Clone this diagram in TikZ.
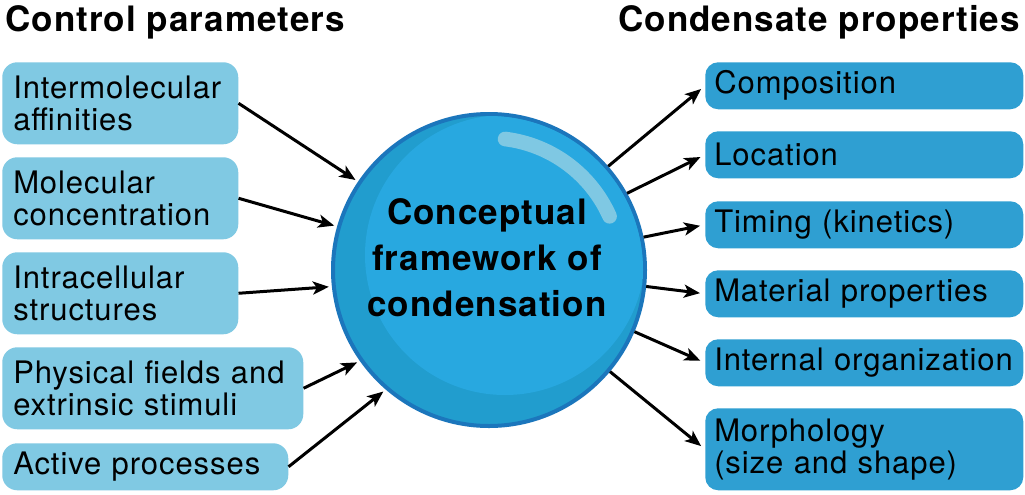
\documentclass[tikz,border=0pt]{standalone}
\usepackage{fontspec}
\setmainfont{TeX Gyre Heros}[LetterSpace=3]
\usetikzlibrary{arrows.meta}
\definecolor{lboxc}{HTML}{80C9E3}
\definecolor{rboxc}{HTML}{2F9FD2}
\definecolor{outerc}{HTML}{219DCE}
\definecolor{innerc}{HTML}{28A8E0}
\definecolor{ringc}{HTML}{1B76BC}
\definecolor{hlc}{HTML}{7FC8E3}
\newcommand{\bodyfnt}{\fontsize{23.25pt}{24pt}\selectfont}
\newcommand{\titlefnt}{\fontsize{26.25pt}{28pt}\selectfont\bfseries}
\newcommand{\circfnt}{\fontsize{26.25pt}{34.5pt}\selectfont\bfseries}
\begin{document}
\begin{tikzpicture}[x=0.75pt,y=-0.75pt,
  lbox/.style={fill=lboxc, rounded corners=11.25pt, anchor=north west, inner xsep=8.25pt, inner ysep=0pt, align=left, font=\bodyfnt, minimum height=61.5pt},
  rbox/.style={fill=rboxc, rounded corners=9.75pt, anchor=north west, inner xsep=6.75pt, inner ysep=0pt, align=left, font=\bodyfnt, minimum height=35.25pt, text width=225pt},
  arr/.style={line width=2.25pt, -{Stealth[length=12pt,width=9.75pt,inset=3pt]}},
  ttl/.style={font=\titlefnt, anchor=base west, inner sep=0pt}
]
\useasboundingbox (0,0) rectangle (1025,494);
\fill[white] (0,0) rectangle (1025,494);

\node[ttl] (t1) at (5,31) {Control parameters};
\node[ttl] (t2) at (618,31) {Condensate properties};

% left boxes
\node[lbox, text width=160.5pt] (l1) at (2,62) {Intermolecular\\affinities};
\node[lbox, text width=160.5pt] (l2) at (2,157) {Molecular\\concentration};
\node[lbox, text width=160.5pt] (l3) at (2,252) {Intracellular\\structures};
\node[lbox, text width=209.25pt] (l4) at (2,347) {Physical fields and\\extrinsic stimuli};
\node[lbox, text width=198pt, minimum height=35.25pt] (l5) at (2,443) {Active processes};

% right boxes
\node[rbox] (r1) at (705,62) {Composition};
\node[rbox] (r2) at (705,131) {Location};
\node[rbox] (r3) at (705,201) {Timing (kinetics)};
\node[rbox] (r4) at (705,270) {Material properties};
\node[rbox] (r5) at (705,339) {Internal organization};
\node[rbox, minimum height=61.5pt] (r6) at (705,408) {Morphology\\(size and shape)};

% central sphere
\node[circle, minimum size=234pt, inner sep=0pt, outer sep=3.75pt, fill=outerc, draw=ringc, line width=3pt] (C) at (489,270) {};
\begin{scope}
  \clip (C.center) circle (115.5pt);
  \fill[innerc] (505,255) circle (140);
\end{scope}
\draw[hlc, line width=11pt, line cap=round] ([shift={(83:99pt)}]C.center) arc[start angle=83, end angle=24, radius=99pt];
\node[font=\circfnt, align=center, inner sep=0pt] (ct) at (487,258) {Conceptual\\framework of\\condensation};

% connectors in
\draw[arr] (l1.east) -- (C.146);
\draw[arr] (l2.east) -- (C.164);
\draw[arr] (l3.east) -- (C.186);
\draw[arr] (l4.east) -- (C.215);
\draw[arr] (l5.east) -- (C.229);

% connectors out
\draw[arr, shorten <=-2.25pt, shorten >=3.75pt] (C.41) -- (r1.west);
\draw[arr, shorten <=-2.25pt, shorten >=3.75pt] (C.29) -- (r2.west);
\draw[arr, shorten <=-2.25pt, shorten >=3.75pt] (C.12) -- (r3.west);
\draw[arr, shorten <=-2.25pt, shorten >=3.75pt] (C.-6) -- (r4.west);
\draw[arr, shorten <=-2.25pt, shorten >=3.75pt] (C.-23.5) -- (r5.west);
\draw[arr, shorten <=-2.25pt, shorten >=3.75pt] (C.-40) -- (r6.west);
\end{tikzpicture}
\end{document}
